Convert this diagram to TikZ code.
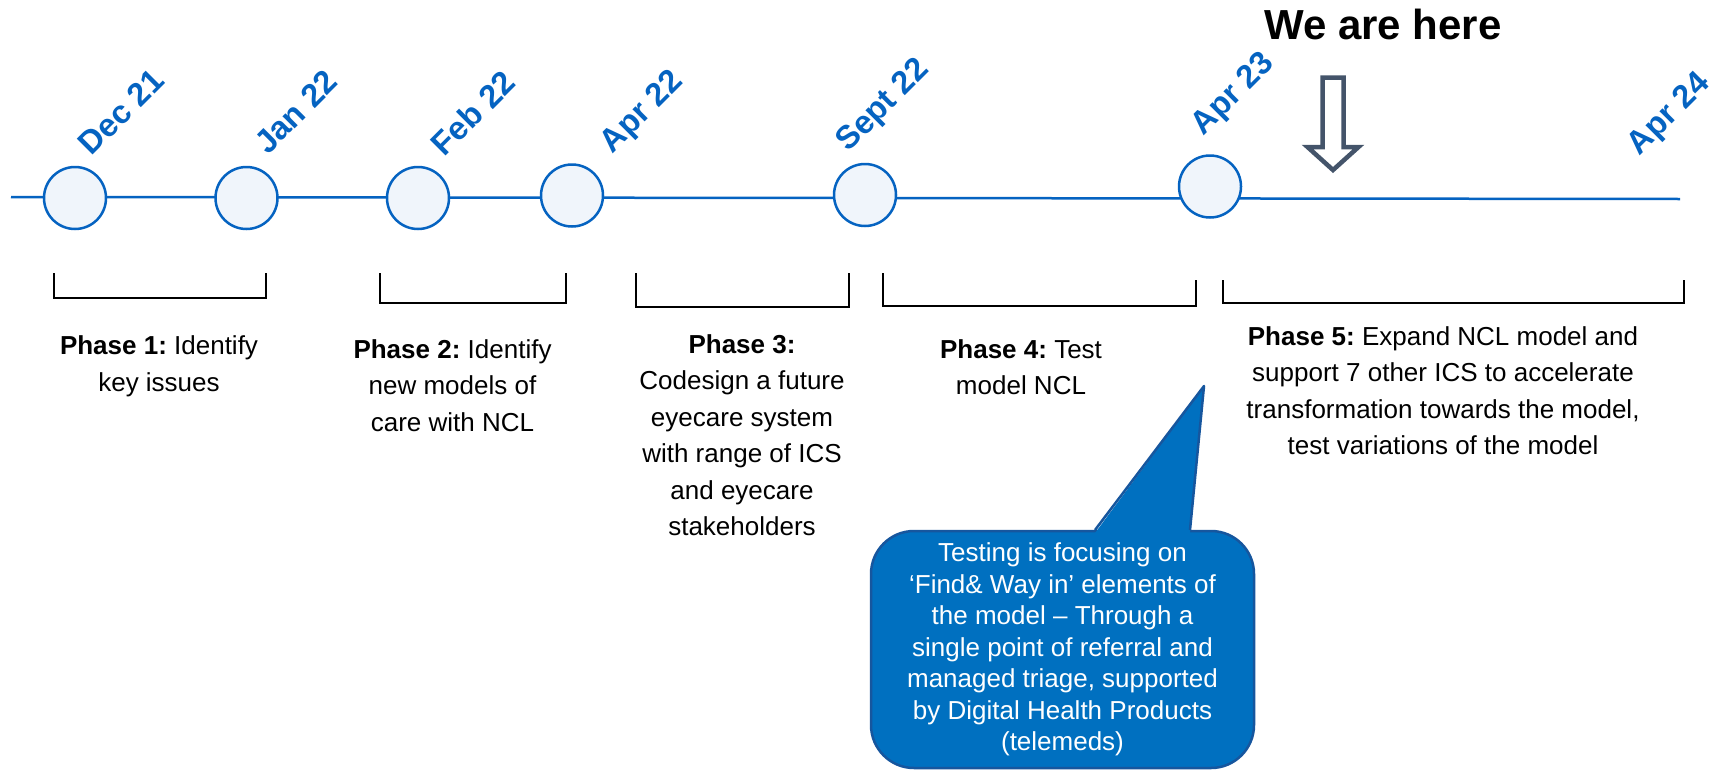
\documentclass[tikz,border=0pt]{standalone}
\usepackage{fontspec}
\setmainfont{Liberation Sans}
\frenchspacing

\definecolor{tlblue}{RGB}{5,99,193}
\definecolor{dotfill}{RGB}{240,245,251}
\definecolor{notefill}{RGB}{0,112,192}
\definecolor{noteline}{RGB}{22,86,158}
\definecolor{slate}{RGB}{68,84,106}

\begin{document}
\begin{tikzpicture}[x=1pt,y=-1pt]
    %\draw[help lines,step=50] (0,0) grid (1723,771);
    \tikzset{
        milestone/.style={circle,draw=tlblue,fill=dotfill,line width=2.5pt,minimum size=62pt,inner sep=0pt},
        datelabel/.style={rotate=45,text=tlblue,inner sep=0pt,font=\fontsize{32.5}{38}\selectfont\bfseries},
        phasebracket/.style={line width=2.5pt},
        phasetext/.style={align=center,anchor=north,inner sep=0pt,font=\fontsize{26}{36.5}\selectfont},
        bubble/.style={draw=noteline,fill=notefill,line width=2.5pt,rounded corners=43pt,
            minimum width=383pt,minimum height=237pt,inner sep=0pt,text=white,align=center,
            font=\fontsize{26}{31.5}\selectfont}
    }
    \useasboundingbox (0,0) rectangle (1723,771);

    % timeline
    \coordinate (start) at (11,197);
    \coordinate (end) at (1680,199);
    \draw[tlblue,line width=2.5pt] (start) -- (end);

    \node[milestone] (dec21) at (75,198) {};
    \node[milestone] (jan22) at (246.5,198) {};
    \node[milestone] (feb22) at (418,198) {};
    \node[milestone] (apr22) at (572,195.5) {};
    \node[milestone] (sep22) at (865,195) {};
    \node[milestone] (apr23) at (1210,186.5) {};

    \node[datelabel] (l-dec21) at (121,112) {Dec 21};
    \node[datelabel] (l-jan22) at (296,112) {Jan 22};
    \node[datelabel] (l-feb22) at (473,113) {Feb 22};
    \node[datelabel] (l-apr22) at (643,113) {Apr 22};
    \node[datelabel] (l-sep22) at (884,106) {Sept 22};
    \node[datelabel] (l-apr23) at (1234,95) {Apr 23};
    \node[datelabel] (l-apr24) at (1670,115) {Apr 24};

    % we are here
    \node[anchor=base,inner sep=0pt,font=\fontsize{42}{46}\selectfont\bfseries] (weare) at (1383,39.5) {We are here};
    \coordinate (here) at (1333,170);
    \draw[slate,line width=4.5pt,fill=white] (1322.5,77.5) -- (1343.5,77.5) -- (1343.5,147) -- (1358.5,147)
        -- (here) -- (1307.5,147) -- (1322.5,147) -- cycle;

    % phases
    \draw[phasebracket] (54,273) |- (266,298) -- (266,273);
    \draw[phasebracket] (380,273) |- (566,303) -- (566,273);
    \draw[phasebracket] (636,273) |- (849,307) -- (849,273);
    \draw[phasebracket] (883,273) |- (1196,306) -- (1196,280);
    \draw[phasebracket] (1223,280) |- (1684,303) -- (1684,280);

    \node[phasetext] (ph1) at (159,335.5) {\textbf{Phase 1:} Identify\\key issues};
    \node[phasetext] (ph2) at (452.5,339) {\textbf{Phase 2:} Identify\\new models of\\care with NCL};
    \node[phasetext] (ph3) at (742,334) {\textbf{Phase 3:}\\Codesign a future\\eyecare system\\with range of ICS\\and eyecare\\stakeholders};
    \node[phasetext] (ph4) at (1021,339) {\textbf{Phase 4:} Test\\model NCL};
    \node[phasetext] (ph5) at (1443,326) {\textbf{Phase 5:} Expand NCL model and\\support 7 other ICS to accelerate\\transformation towards the model,\\test variations of the model};

    % callout
    \node[bubble] (note) at (1062.5,649.5) {Testing is focusing on\\‘Find\& Way in’ elements of\\the model – Through a\\single point of referral and\\managed triage, supported\\by Digital Health Products\\(telemeds)};
    \coordinate (tip) at (1204,386);
    \fill[notefill] (1095,533) -- (tip) -- (1190,533) -- cycle;
    \draw[noteline,line width=2.5pt,line join=round] (1095,530) -- (tip) -- (1190,530);
\end{tikzpicture}
\end{document}
